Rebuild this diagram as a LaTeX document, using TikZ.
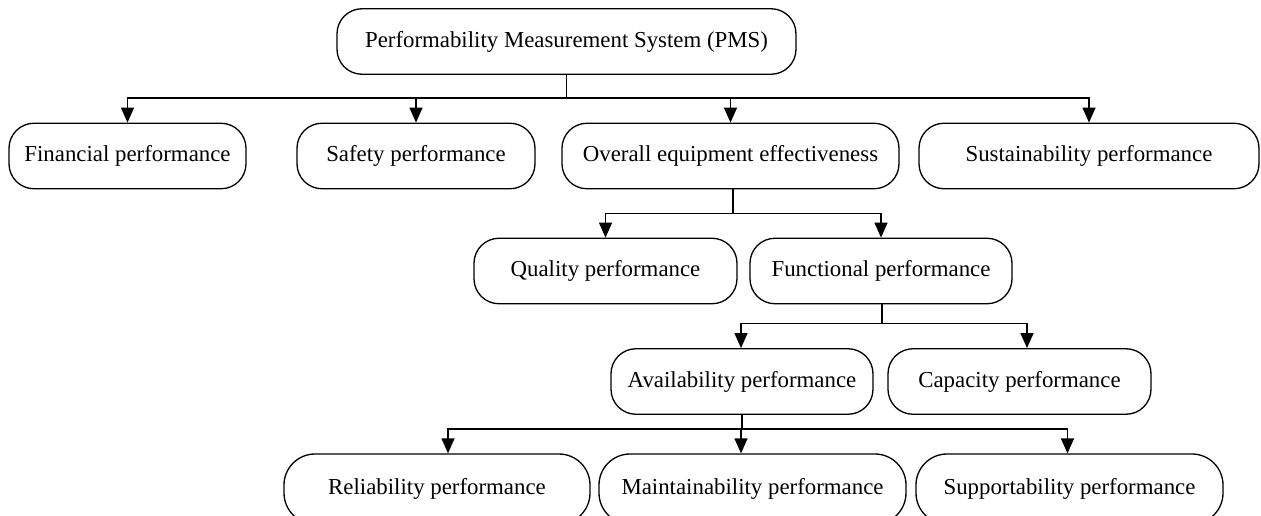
\documentclass[tikz,border=0pt]{standalone}
\usepackage{fontspec}
\setmainfont{Liberation Serif}
\usepackage{tikz}
\usetikzlibrary{arrows.meta,positioning}

\begin{document}
\begin{tikzpicture}[->,>={Triangle[length=3mm,width=2.6mm]},line width=0.75pt,
                    font=\fontsize{13}{15}\selectfont]
  \tikzstyle{box}=[rectangle,draw=black,fill=white,rounded corners=0.5cm,
                   minimum height=1.31cm,inner sep=2pt,-]
  \tikzstyle{wide}=[box,rounded corners=0.62cm,minimum height=1.4cm]

  \useasboundingbox (0,0) rectangle (25.22,-10.3);
  \clip (0,0) rectangle (25.22,-10.3);

  \node[box,minimum width=9.18cm] (pms) at (11.33,-0.83) {Performability Measurement System (PMS)};

  \node[box,minimum width=4.74cm] (fin) at (2.55,-3.12)  {Financial performance};
  \node[box,minimum width=4.76cm] (saf) at (8.32,-3.12)  {Safety performance};
  \node[box,minimum width=6.74cm] (oee) at (14.61,-3.12) {Overall equipment effectiveness};
  \node[box,minimum width=6.8cm]  (sus) at (21.78,-3.12) {Sustainability performance};

  \node[box,minimum width=5.26cm] (qua) at (12.11,-5.42) {Quality performance};
  \node[box,minimum width=5.24cm] (fun) at (17.62,-5.42) {Functional performance};

  \node[box,minimum width=5.24cm] (ava) at (14.84,-7.63) {Availability performance};
  \node[box,minimum width=5.26cm] (cap) at (20.39,-7.63) {Capacity performance};

  \node[wide,minimum width=6.12cm] (rel) at (8.74,-9.78)  {Reliability performance};
  \node[wide,minimum width=6.14cm] (mai) at (15.05,-9.78) {Maintainability performance};
  \node[wide,minimum width=6.14cm] (sup) at (21.39,-9.78) {Supportability performance};

  % junctions
  \path (pms.south) ++(0,-0.46) coordinate (j1);
  \path (oee.south) ++(0.05,-0.48) coordinate (j2);
  \path (fun.south) ++(0.02,-0.38) coordinate (j3);
  \path (ava.south) ++(0,-0.28) coordinate (j4);

  \draw[-] (pms) -- (j1);
  \foreach \n in {fin,saf,oee,sus}
    \draw (j1) -| (\n);

  \draw[-] (oee.south -| j2) -- (j2);
  \draw (j2) -| (qua);
  \draw (j2) -| (fun);

  \draw[-] (fun.south -| j3) -- (j3);
  \draw (j3) -| ([xshift=-0.02cm]ava.north);
  \draw (j3) -| ([xshift=0.15cm]cap.north);

  \draw[-] (ava) -- (j4);
  \draw (j4) -| ([xshift=0.22cm]rel.north);
  \draw (j4) -| ([xshift=-0.23cm]mai.north);
  \draw (j4) -| ([xshift=-0.04cm]sup.north);
\end{tikzpicture}
\end{document}
